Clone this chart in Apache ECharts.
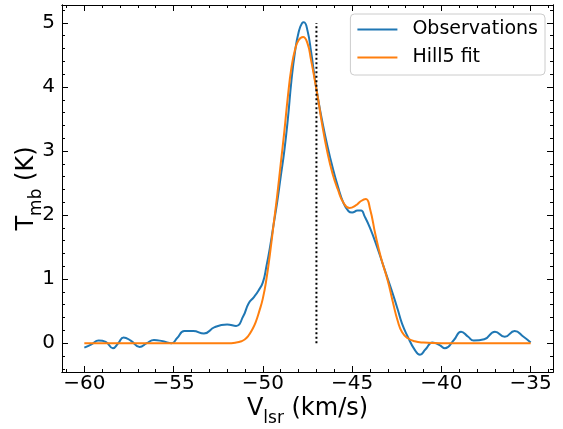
<!DOCTYPE html>
<html><head><meta charset="utf-8">
<script src="https://cdn.jsdelivr.net/npm/echarts@6/dist/echarts.min.js"></script>
<style>html,body{margin:0;padding:0;background:#fff}#c{width:563px;height:429px}</style>
</head><body><div id="c"></div>
<script>
var obsV = [-60.0,-59.6,-59.2,-58.8,-58.4,-58.1,-57.8,-57.4,-56.9,-56.5,-56.1,-55.6,-55.1,-54.8,-54.4,-53.9,-53.3,-52.7,-52.0,-51.5,-51.1,-50.8,-50.5,-50.25,-50.0,-49.8,-49.6,-49.4,-49.2,-49.0,-48.8,-48.6,-48.4,-48.2,-48.0,-47.8,-47.7,-47.5,-47.3,-47.1,-46.9,-46.7,-46.4,-46.1,-45.8,-45.5,-45.2,-45.0,-44.7,-44.5,-44.3,-44.0,-43.6,-43.3,-43.0,-42.7,-42.45,-42.2,-41.9,-41.5,-41.2,-40.9,-40.5,-40.1,-39.8,-39.3,-38.9,-38.5,-38.2,-37.6,-37.0,-36.45,-35.9,-35.4,-35.0];
var obsT = [-0.07,-0.02,0.04,0.02,-0.08,0.0,0.09,0.04,-0.06,0.0,0.05,0.03,0.0,0.08,0.19,0.19,0.15,0.25,0.29,0.27,0.42,0.62,0.72,0.82,0.95,1.2,1.5,1.85,2.2,2.6,3.0,3.5,4.1,4.55,4.85,5.0,5.01,4.88,4.55,4.15,3.8,3.5,3.1,2.75,2.45,2.2,2.06,2.04,2.07,2.07,1.98,1.8,1.5,1.25,1.0,0.75,0.53,0.3,0.11,-0.1,-0.18,-0.1,0.01,-0.03,-0.08,0.05,0.18,0.1,0.04,0.06,0.18,0.10,0.19,0.1,0.01];
var fitV = [-60.0,-52.0,-51.5,-51.2,-51.0,-50.8,-50.6,-50.4,-50.2,-50.0,-49.8,-49.6,-49.4,-49.2,-49.0,-48.8,-48.6,-48.4,-48.2,-48.0,-47.75,-47.5,-47.3,-47.1,-46.9,-46.7,-46.4,-46.1,-45.8,-45.5,-45.15,-44.8,-44.5,-44.23,-44.0,-43.7,-43.4,-43.0,-42.7,-42.45,-42.2,-41.9,-41.5,-41.0,-40.0,-35.0];
var fitT = [0,0,0.01,0.03,0.06,0.12,0.21,0.33,0.5,0.7,1.0,1.4,1.85,2.3,2.8,3.3,3.85,4.3,4.58,4.73,4.78,4.68,4.42,4.12,3.8,3.45,3.0,2.65,2.4,2.2,2.11,2.15,2.22,2.25,2.1,1.7,1.35,0.97,0.62,0.35,0.17,0.08,0.03,0.01,0,0];
var markerV = [-47, -47];
var markerT = [0, 5];
var xMajor = [-60,-55,-50,-45,-40,-35];
var yMajor = [0,1,2,3,4,5];
var seriesNames = ['Observations','Hill5 fit'];

var xMinor = []; for (var i = -61; i <= -34; i++) xMinor.push(i);
var yMinor = []; for (var j = -2; j <= 26; j++) yMinor.push(+(j*0.2).toFixed(1));
function zip(a,b){return a.map(function(v,i){return [v,b[i]];});}
var FONT = 'DejaVu Sans';
var XMIN=-61.25, XMAX=-33.75, YMIN=-0.45, YMAX=5.28;
function fmt(v){return String(v).replace('-','\u2212');}
function xAx(pos, vals, len, labels, extra){
  var a = {type:'value', min:XMIN, max:XMAX, position:pos, gridIndex:0,
    axisLine:{show:true, onZero:false, lineStyle:{color:'#000', width:1}},
    axisTick:{show:true, inside:true, length:len, customValues:vals, lineStyle:{color:'#000', width:1}},
    axisLabel:{show:labels, customValues:vals, formatter:fmt, color:'#000', fontFamily:FONT, fontSize:20, margin:2},
    splitLine:{show:false}};
  return Object.assign(a, extra||{});
}
function yAx(pos, vals, len, labels, extra){
  var a = {type:'value', min:YMIN, max:YMAX, position:pos, gridIndex:0,
    axisLine:{show:true, onZero:false, lineStyle:{color:'#000', width:1}},
    axisTick:{show:true, inside:true, length:len, customValues:vals, lineStyle:{color:'#000', width:1}},
    axisLabel:{show:labels, customValues:vals, formatter:fmt, color:'#000', fontFamily:FONT, fontSize:20, margin:7},
    splitLine:{show:false}};
  return Object.assign(a, extra||{});
}
var richT = {a:{fontSize:24, fontFamily:FONT, color:'#000', verticalAlign:'top', lineHeight:30}, b:{fontSize:17, fontFamily:FONT, color:'#000', verticalAlign:'bottom', lineHeight:30}};
var chart = echarts.init(document.getElementById('c'), null, {renderer:'canvas'});
chart.setOption({
  animation:false,
  backgroundColor:'#fff',
  textStyle:{fontFamily:FONT},
  grid:{left:62, right:10, top:5, bottom:57, containLabel:false, outerBoundsMode:'none'},
  legend:{
    data:seriesNames, orient:'vertical', right:18, top:14,
    backgroundColor:'#fff', borderColor:'#ccc', borderWidth:1, borderRadius:4,
    padding:[6,7,8,7], itemGap:9, itemWidth:40, itemHeight:2, icon:'rect',
    textStyle:{fontFamily:FONT, fontSize:19, color:'#000', padding:[0,0,0,10]}
  },
  xAxis:[
    xAx('bottom', xMajor, 6, true, {name:'{a|V}{b|lsr}{a| (km/s)}', nameLocation:'middle', nameGap:25, nameMoveOverlap:false,
      nameTextStyle:{rich:richT}}),
    xAx('bottom', xMinor, 3, false),
    xAx('top', xMajor, 6, false),
    xAx('top', xMinor, 3, false)
  ],
  yAxis:[
    yAx('left', yMajor, 6, true, {name:'{a|T}{b|mb}{a| (K)}', nameLocation:'middle', nameGap:17, nameRotate:90, nameMoveOverlap:false,
      nameTextStyle:{rich:richT}}),
    yAx('left', yMinor, 3, false),
    yAx('right', yMajor, 6, false),
    yAx('right', yMinor, 3, false)
  ],
  series:[
    {name:seriesNames[0], type:'line', xAxisIndex:0, yAxisIndex:0, data:zip(obsV,obsT), showSymbol:false, smooth:0.5,
      lineStyle:{color:'#1f77b4', width:2}, itemStyle:{color:'#1f77b4'}, z:2},
    {name:seriesNames[1], type:'line', xAxisIndex:0, yAxisIndex:0, data:zip(fitV,fitT), showSymbol:false, smooth:0.5,
      lineStyle:{color:'#ff7f0e', width:2}, itemStyle:{color:'#ff7f0e'}, z:3},
    {name:'marker', type:'line', xAxisIndex:0, yAxisIndex:0, data:zip(markerV,markerT), showSymbol:false,
      lineStyle:{color:'#000', width:2, type:[2,2.5], cap:'butt'}, z:4}
  ]
});
</script></body></html>
